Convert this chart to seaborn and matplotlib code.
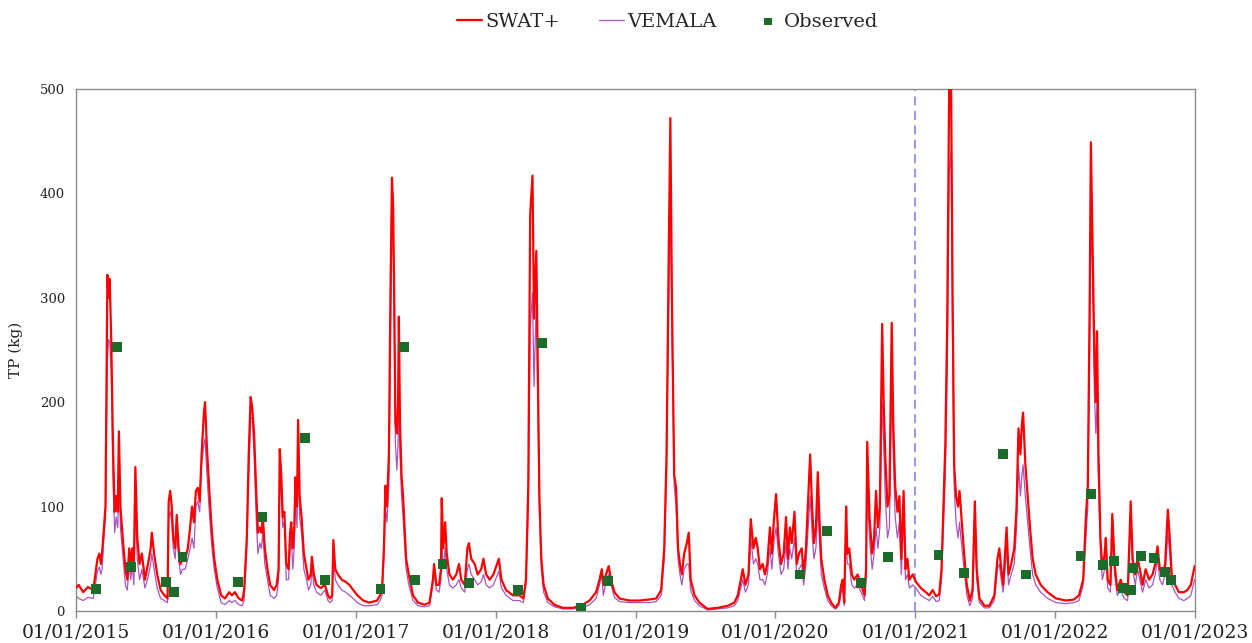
import numpy as np
import pandas as pd
import matplotlib
matplotlib.use("Agg")
import matplotlib.pyplot as plt
import matplotlib.dates as mdates
import seaborn as sns

# ---------------- data ----------------
start_date = "2015-01-01"
# simulated series sample points: days since 2015-01-01
sim_days = [
    0, 7, 19, 31, 45, 56, 61, 65, 68, 72, 77, 82, 85, 88, 92, 97, 101, 105, 109, 112,
    116, 122, 129, 134, 139, 143, 147, 151, 155, 160, 166, 172, 180, 188, 195, 198, 204, 212, 221, 231,
    239, 242, 246, 250, 254, 259, 263, 268, 273, 278, 285, 292, 298, 303, 308, 313, 318, 323, 328, 334,
    337, 342, 349, 355, 361, 369, 379, 389, 400, 407, 415, 425, 434, 439, 446, 451, 456, 460, 465, 471,
    475, 480, 484, 488, 493, 500, 507, 517, 524, 529, 532, 536, 540, 544, 549, 555, 559, 562, 566, 570,
    573, 577, 580, 584, 589, 595, 602, 607, 613, 616, 621, 628, 639, 650, 658, 663, 669, 672, 677, 684,
    694, 704, 714, 724, 735, 750, 766, 786, 794, 799, 804, 808, 812, 817, 821, 825, 828, 831, 834, 838,
    841, 843, 846, 850, 854, 862, 869, 880, 893, 910, 923, 932, 935, 941, 948, 953, 955, 959, 964, 968,
    975, 984, 993, 1000, 1006, 1015, 1022, 1026, 1032, 1041, 1049, 1058, 1064, 1071, 1080, 1090, 1104, 1111, 1123, 1141,
    1158, 1168, 1175, 1181, 1186, 1192, 1196, 1202, 1206, 1210, 1215, 1221, 1232, 1249, 1271, 1297, 1319, 1341, 1358, 1367,
    1373, 1377, 1384, 1391, 1397, 1406, 1419, 1445, 1471, 1497, 1515, 1528, 1536, 1542, 1548, 1552, 1556, 1562, 1567, 1572,
    1577, 1582, 1588, 1595, 1600, 1605, 1615, 1628, 1649, 1675, 1702, 1719, 1728, 1736, 1741, 1748, 1756, 1762, 1769, 1775,
    1780, 1786, 1793, 1799, 1805, 1812, 1817, 1822, 1828, 1834, 1841, 1848, 1854, 1859, 1864, 1869, 1876, 1882, 1888, 1895,
    1900, 1906, 1911, 1917, 1922, 1927, 1932, 1937, 1941, 1946, 1954, 1963, 1972, 1983, 1992, 1998, 2002, 2006, 2011, 2014,
    2019, 2026, 2032, 2041, 2050, 2059, 2063, 2066, 2072, 2079, 2084, 2089, 2094, 2099, 2105, 2109, 2113, 2119, 2124, 2130,
    2134, 2139, 2145, 2150, 2155, 2161, 2166, 2171, 2176, 2185, 2193, 2206, 2219, 2228, 2237, 2246, 2254, 2260, 2265, 2270,
    2275, 2280, 2285, 2289, 2293, 2298, 2303, 2307, 2312, 2319, 2326, 2334, 2341, 2347, 2352, 2359, 2372, 2385, 2398, 2406,
    2411, 2416, 2421, 2426, 2430, 2435, 2442, 2450, 2456, 2461, 2466, 2470, 2473, 2479, 2485, 2491, 2498, 2506, 2519, 2537,
    2559, 2585, 2606, 2619, 2630, 2637, 2642, 2647, 2650, 2654, 2659, 2663, 2666, 2670, 2675, 2680, 2686, 2689, 2694, 2701,
    2706, 2712, 2719, 2728, 2737, 2746, 2754, 2759, 2766, 2772, 2778, 2785, 2793, 2802, 2811, 2818, 2824, 2830, 2837, 2844,
    2851, 2856, 2861, 2870, 2880, 2893, 2902, 2911, 2921,
]
swat_tp = [
    22, 25, 18, 23, 20, 50, 55, 45, 55, 75, 100, 322, 300, 318, 260, 150, 95, 110, 95, 172,
    100, 70, 40, 30, 60, 45, 60, 40, 138, 70, 45, 55, 30, 45, 60, 75, 55, 35, 20, 15,
    12, 105, 115, 100, 70, 60, 92, 60, 45, 50, 50, 60, 80, 100, 85, 115, 118, 105, 150, 190,
    200, 155, 110, 75, 50, 30, 15, 12, 18, 15, 18, 12, 10, 20, 70, 150, 205, 195, 170, 110,
    75, 80, 75, 90, 60, 40, 25, 20, 25, 40, 155, 130, 90, 95, 45, 40, 75, 85, 60, 80,
    128, 100, 183, 110, 90, 55, 40, 30, 35, 52, 35, 25, 22, 25, 15, 12, 15, 68, 40, 35,
    30, 28, 25, 20, 15, 10, 8, 10, 15, 20, 60, 120, 100, 150, 300, 415, 390, 300, 180, 170,
    200, 282, 180, 130, 110, 50, 35, 15, 8, 6, 8, 30, 45, 25, 25, 40, 108, 60, 85, 55,
    35, 30, 35, 45, 30, 25, 60, 65, 50, 45, 35, 40, 50, 35, 30, 35, 50, 30, 20, 15,
    15, 12, 30, 120, 380, 417, 280, 345, 230, 110, 50, 25, 12, 6, 3, 3, 5, 10, 18, 30,
    40, 25, 35, 43, 30, 18, 12, 10, 10, 11, 12, 20, 60, 150, 350, 472, 300, 130, 118, 60,
    45, 35, 55, 65, 75, 30, 15, 8, 2, 3, 5, 8, 15, 30, 40, 25, 35, 88, 60, 70,
    60, 40, 45, 35, 45, 80, 55, 85, 112, 70, 45, 55, 90, 50, 80, 65, 95, 45, 55, 60,
    35, 60, 100, 150, 100, 65, 80, 133, 90, 50, 30, 15, 8, 3, 8, 25, 30, 8, 100, 55,
    60, 35, 30, 35, 25, 15, 40, 162, 90, 55, 70, 115, 80, 100, 275, 200, 150, 100, 110, 276,
    180, 120, 95, 110, 50, 115, 40, 50, 30, 35, 28, 22, 18, 15, 20, 14, 16, 40, 100, 160,
    280, 500, 505, 300, 140, 110, 100, 115, 90, 55, 25, 10, 20, 105, 40, 12, 5, 5, 15, 50,
    60, 40, 25, 55, 80, 35, 45, 60, 100, 175, 150, 180, 190, 140, 110, 80, 50, 35, 25, 18,
    12, 10, 11, 15, 30, 90, 120, 300, 449, 360, 250, 200, 268, 150, 70, 40, 55, 70, 30, 25,
    93, 45, 20, 30, 18, 15, 105, 50, 35, 50, 40, 25, 40, 30, 35, 45, 62, 40, 35, 45,
    97, 70, 35, 25, 18, 18, 20, 25, 43,
]
vemala_tp = [
    14, 12, 10, 13, 12, 38, 42, 35, 40, 65, 90, 240, 260, 258, 230, 120, 75, 90, 80, 130,
    80, 55, 25, 20, 45, 30, 45, 25, 100, 50, 30, 40, 22, 32, 45, 55, 40, 22, 12, 10,
    8, 90, 95, 85, 60, 50, 80, 50, 35, 40, 40, 50, 60, 70, 60, 100, 105, 95, 140, 160,
    165, 130, 90, 60, 40, 22, 8, 6, 10, 8, 10, 6, 5, 10, 60, 130, 185, 185, 150, 85,
    55, 65, 60, 75, 45, 30, 15, 12, 15, 30, 130, 110, 80, 85, 30, 30, 60, 70, 40, 60,
    110, 80, 150, 90, 75, 40, 30, 20, 25, 40, 25, 18, 15, 20, 10, 8, 10, 55, 30, 25,
    20, 18, 15, 12, 8, 5, 5, 6, 10, 15, 50, 100, 85, 120, 250, 360, 370, 270, 160, 135,
    160, 200, 150, 110, 90, 40, 25, 10, 5, 4, 5, 25, 38, 20, 18, 30, 70, 40, 60, 40,
    25, 22, 25, 30, 22, 18, 40, 45, 35, 30, 25, 28, 35, 25, 22, 25, 38, 22, 15, 10,
    10, 8, 25, 100, 270, 305, 215, 300, 200, 95, 40, 18, 8, 4, 2, 2, 3, 6, 12, 25,
    35, 15, 28, 35, 25, 13, 9, 8, 8, 8, 9, 15, 50, 130, 300, 400, 270, 120, 100, 50,
    35, 25, 40, 45, 45, 20, 10, 5, 1, 2, 3, 5, 10, 22, 30, 18, 25, 70, 45, 50,
    45, 30, 30, 25, 35, 60, 40, 65, 80, 55, 35, 40, 65, 40, 60, 50, 70, 35, 40, 45,
    25, 45, 75, 110, 75, 50, 60, 100, 70, 35, 22, 10, 5, 2, 5, 18, 22, 5, 75, 45,
    45, 25, 22, 25, 18, 10, 30, 120, 70, 40, 55, 80, 60, 80, 200, 160, 110, 70, 80, 220,
    150, 90, 70, 85, 35, 90, 30, 35, 22, 25, 22, 15, 12, 10, 14, 9, 10, 30, 80, 130,
    230, 420, 440, 250, 120, 85, 70, 85, 65, 40, 15, 5, 12, 80, 30, 8, 3, 3, 10, 40,
    45, 30, 18, 40, 60, 25, 35, 45, 80, 140, 110, 130, 140, 110, 85, 60, 35, 25, 18, 12,
    8, 7, 8, 10, 25, 70, 100, 250, 375, 330, 210, 170, 200, 120, 55, 30, 40, 55, 22, 18,
    70, 35, 15, 20, 12, 10, 85, 40, 25, 40, 30, 18, 30, 22, 25, 35, 50, 30, 25, 35,
    75, 55, 25, 18, 12, 10, 12, 15, 30,
]
# observed samples: days since 2015-01-01 and TP (kg)
obs_days = [53, 108, 144, 234, 256, 278, 423, 487, 597, 651, 795, 857, 885, 957, 1026,
            1154, 1217, 1319, 1390, 1890, 1960, 2050, 2121, 2252, 2319, 2421, 2480, 2623,
            2651, 2682, 2710, 2733, 2755, 2760, 2781, 2815, 2844, 2860]
obs_tp = [21, 253, 42, 28, 18, 52, 28, 90, 166, 30, 21, 253, 30, 45, 27,
          20, 257, 3, 29, 35, 77, 27, 52, 54, 36, 150, 35, 53,
          112, 44, 48, 22, 20, 41, 53, 51, 37, 30]
split_date = "2021-01-01"
x_start, x_end = "2015-01-01", "2023-01-01"
y_ticks = [0, 100, 200, 300, 400, 500]

# ---------------- build frames ----------------
t0 = pd.Timestamp(start_date)
sim = pd.DataFrame({
    "date": t0 + pd.to_timedelta(sim_days, unit="D"),
    "SWAT+": swat_tp,
    "VEMALA": vemala_tp,
})
obs = pd.DataFrame({"date": t0 + pd.to_timedelta(obs_days, unit="D"), "TP": obs_tp})

# ---------------- plot ----------------
sns.set_style("white")
plt.rcParams["font.family"] = ["DejaVu Serif"]

fig = plt.figure(figsize=(12.52, 6.43), dpi=100)
ax = fig.add_axes([0.0607, 0.0498, 0.8938, 0.8118])

sns.lineplot(data=sim, x="date", y="SWAT+", ax=ax, color="#ff0000", linewidth=1.6,
             label="SWAT+", zorder=3)
sns.lineplot(data=sim, x="date", y="VEMALA", ax=ax, color="#a855c0", linewidth=0.9,
             label="VEMALA", zorder=2)
sns.scatterplot(data=obs, x="date", y="TP", ax=ax, color="#1d6b2b", marker="s", s=50,
                edgecolor="none", label="Observed", zorder=4)

ax.axvline(pd.Timestamp(split_date), color="#8f8fe6", linestyle=(0, (5, 3)), linewidth=1.3, zorder=1)

ax.set_xlim(pd.Timestamp(x_start), pd.Timestamp(x_end))
ax.set_ylim(0, 500)
ax.set_yticks(y_ticks)
ax.xaxis.set_major_locator(mdates.YearLocator())
ax.xaxis.set_major_formatter(mdates.DateFormatter("%d/%m/%Y"))
ax.tick_params(axis="x", labelsize=13.5, length=5, width=1, color="#8c8c8c", pad=4,
               bottom=True, direction="out")
ax.tick_params(axis="y", labelsize=9.5, length=0, pad=8)
for lab in ax.get_xticklabels():
    lab.set_color("#222222")
for lab in ax.get_yticklabels():
    lab.set_color("#222222")
ax.set_xlabel("")
ax.set_ylabel("TP (kg)", fontsize=11, color="#222222", labelpad=12)

for sp in ax.spines.values():
    sp.set_visible(True)
    sp.set_color("#8c8c8c")
    sp.set_linewidth(1.0)

handles, labels = ax.get_legend_handles_labels()
ax.legend_.remove()
fig.legend(handles, labels, loc="center", bbox_to_anchor=(0.533, 0.966), ncol=3,
           frameon=False, fontsize=14, handlelength=1.3, handletextpad=0.15,
           columnspacing=2.0, markerscale=0.75)

fig.savefig("out.png", dpi=100)
